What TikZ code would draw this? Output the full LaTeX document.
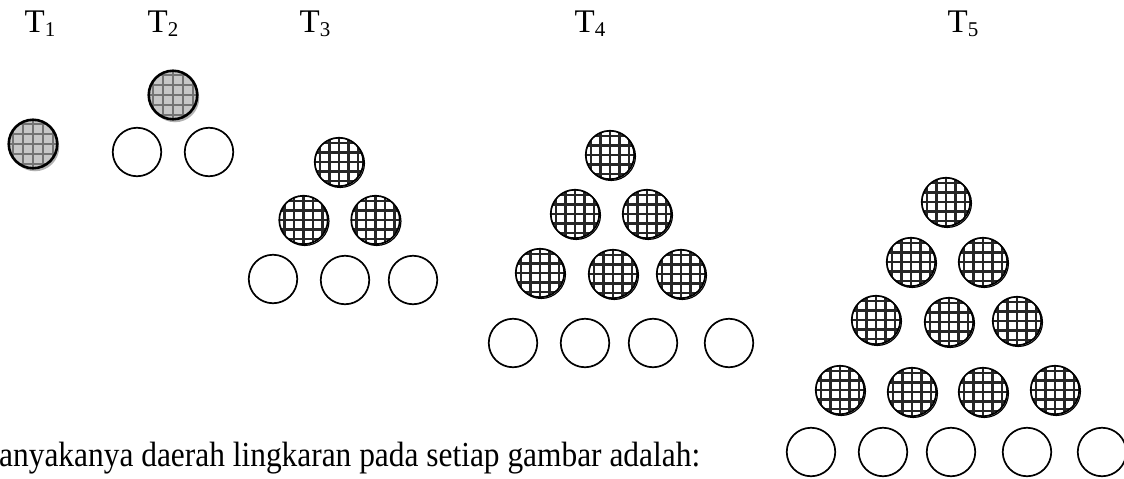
\documentclass[tikz,border=0pt]{standalone}
\usepackage{fontspec}
\setmainfont{Liberation Serif}
\usetikzlibrary{shadows}

\newcommand{\tlabel}[1]{T\raisebox{-4pt}{\fontsize{21}{21}\selectfont #1}}

\tikzset{
  ball/.style={circle, draw=black, line width=1.7pt, minimum size=48.5pt, inner sep=0pt},
  emptyball/.style={ball, fill=white},
  grayball/.style={ball, line width=2.6pt, fill=black!22,
    drop shadow={shadow xshift=2pt, shadow yshift=-3pt, fill=black!30, opacity=1},
    path picture={\draw[black!55, line width=2.2pt] (path picture bounding box.south west) grid[xstep=10pt,ystep=10pt] (path picture bounding box.north east);}},
  checkball/.style={ball, fill=white,
    drop shadow={shadow xshift=1.2pt, shadow yshift=-1.2pt, draw=black, line width=1.2pt, fill=white, opacity=1},
    path picture={\draw[black!85, line width=2.8pt] (path picture bounding box.south west) grid[xstep=9.5pt,ystep=9.5pt] (path picture bounding box.north east);}},
  lbl/.style={anchor=base, inner sep=0pt, font=\fontsize{33}{39}\selectfont},
  txt/.style={anchor=base west, inner sep=0pt, font=\fontsize{31.4}{37}\selectfont}
}

\begin{document}
\begin{tikzpicture}[x=1pt,y=-1pt]
\useasboundingbox (0,0) rectangle (1124,479);

% Labels
\node[lbl] (l1) at (40,32) {\tlabel{1}};
\node[lbl] (l2) at (163,32) {\tlabel{2}};
\node[lbl] (l3) at (315,32) {\tlabel{3}};
\node[lbl] (l4) at (590,32) {\tlabel{4}};
\node[lbl] (l5) at (963,32) {\tlabel{5}};

% T1
\node[grayball] (t1a) at (33,144) {};

% T2
\node[grayball] (t2a) at (173,95) {};
\node[emptyball] (t2b) at (137,152) {};
\node[emptyball] (t2c) at (209,152) {};

% T3
\node[checkball] (t3a) at (339,162) {};
\node[checkball] (t3b) at (303.5,220) {};
\node[checkball] (t3c) at (375.5,220) {};
\node[emptyball] (t3d) at (273,279) {};
\node[emptyball] (t3e) at (345,280) {};
\node[emptyball] (t3f) at (413,280) {};

% T4
\node[checkball] (t4a) at (610,155) {};
\node[checkball] (t4b) at (575,214) {};
\node[checkball] (t4c) at (647,214) {};
\node[checkball] (t4d) at (540,273) {};
\node[checkball] (t4e) at (613,274) {};
\node[checkball] (t4f) at (681,274) {};
\node[emptyball] (t4g) at (513,343) {};
\node[emptyball] (t4h) at (585,343) {};
\node[emptyball] (t4i) at (653,343) {};
\node[emptyball] (t4j) at (729,343) {};

% T5
\node[checkball] (t5a) at (946,202) {};
\node[checkball] (t5b) at (911,262) {};
\node[checkball] (t5c) at (983,262) {};
\node[checkball] (t5d) at (876,320) {};
\node[checkball] (t5e) at (949,322) {};
\node[checkball] (t5f) at (1017,321) {};
\node[checkball] (t5g) at (840,390) {};
\node[checkball] (t5h) at (912,392) {};
\node[checkball] (t5i) at (983,392) {};
\node[checkball] (t5j) at (1055,390) {};
\node[emptyball] (t5k) at (811,452) {};
\node[emptyball] (t5l) at (883,452) {};
\node[emptyball] (t5m) at (951,452) {};
\node[emptyball] (t5n) at (1027,452) {};
\node[emptyball] (t5o) at (1102,452) {};

% Question text
\node[txt] (question) at (-1,466) {\scalebox{1}[1.12]{anyakanya daerah lingkaran pada setiap gambar adalah:}};

\end{tikzpicture}
\end{document}
